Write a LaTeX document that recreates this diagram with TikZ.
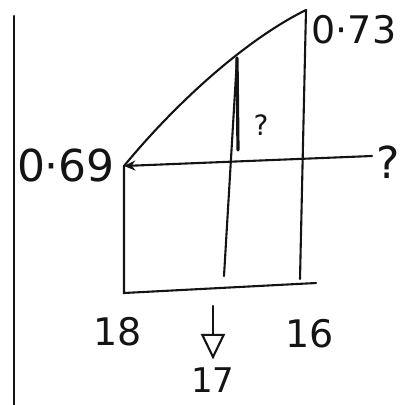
\documentclass[tikz,border=0pt]{standalone}
\usepackage{fontspec}
\setmainfont{DejaVu Sans}
\usepackage{xcolor}
\usetikzlibrary{positioning,arrows.meta,calc}
\definecolor{SKInk}{HTML}{141414}
\tikzset{
  skline/.style={draw=SKInk,line width=2.1pt,line cap=round},
  skthick/.style={draw=SKInk,line width=3.2pt,line cap=round},
  skarrow/.style={skline,-{Stealth[length=4mm,width=3.5mm]}},
  skdown/.style={skline,-{Triangle[open,length=9mm,width=8.5mm,line width=2.1pt]}},
  sklabel/.style={text=SKInk,inner sep=0pt,font=\fontsize{38}{42}\selectfont},
  sksmall/.style={sklabel,font=\fontsize{28}{32}\selectfont},
}

\begin{document}
\begin{tikzpicture}[x=1pt,y=-1pt]
  \useasboundingbox (0,0) rectangle (405,405);

  % corner points of the sketch
  \coordinate (low)  at (124,166);
  \coordinate (high) at (306,10);
  \coordinate (mid)  at (237,58);
  \coordinate (end)  at (372,156);
  \coordinate (bl)   at (124,293);
  \coordinate (br)   at (316,283);
  \coordinate (b16)  at (300,279);
  \coordinate (b17)  at (224,276);
  \coordinate (m17)  at (238,150);
  \coordinate (mtop) at (14,16);
  \coordinate (mbot) at (14,405);

  % page margin
  \draw[skline] (mtop) -- (mbot);

  % curve and axes
  \draw[skline] (low) .. controls (175,104) and (245,40) .. (high);
  \draw[skarrow] (end) -- (low);
  \draw[skline] (high) -- (b16);
  \draw[skline] (mid) -- (b17);
  \draw[skthick] (mid) -- (m17);
  \draw[skline] (low) -- (bl) -- (br);

  % labels
  \node[sklabel,font=\fontsize{44}{48}\selectfont] (v69) at (66,165) {0·69};
  \node[sklabel] (v73) at (354,30) {0·73};
  \node[sksmall] (qmid) at (261,125) {?};
  \node[sklabel,font=\fontsize{44}{48}\selectfont] (qend) at (388,162) {?};
  \node[sklabel] (t18) at (118,332) {18};
  \node[sklabel] (t16) at (310,334) {16};
  \node[sklabel,font=\fontsize{34}{38}\selectfont] (t17) at (213,380) {17};

  \coordinate (atop) at (213,306);
  \draw[skdown] (atop) -- ($(t17.north)+(0,-8)$);
\end{tikzpicture}
\end{document}
